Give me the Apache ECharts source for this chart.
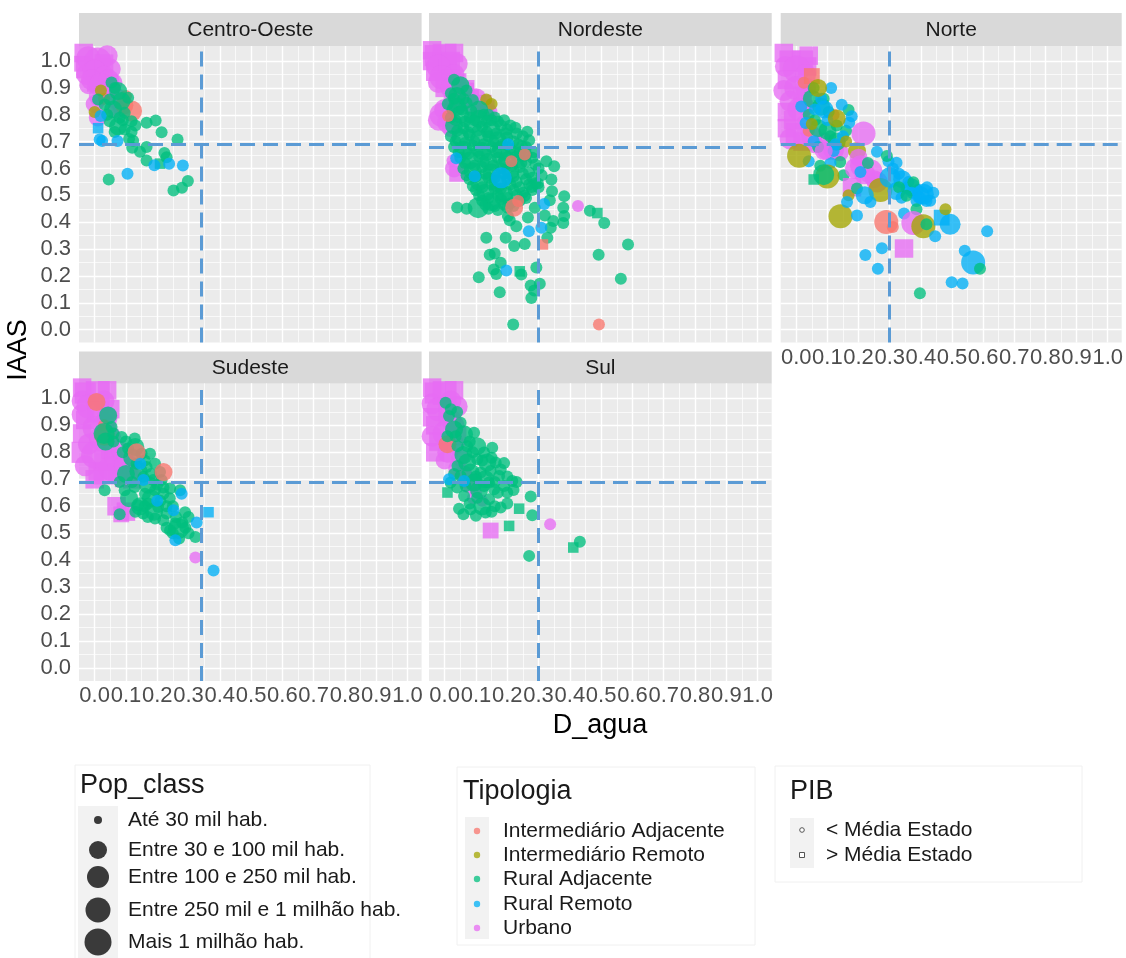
<!DOCTYPE html>
<html><head><meta charset="utf-8">
<script src="https://cdn.jsdelivr.net/npm/echarts@6/dist/echarts.min.js"></script>
<style>html,body{margin:0;padding:0;background:#fff}#c{width:1126px;height:958px}</style>
</head><body><div id="c"></div>
<script>
// ---------------- data ----------------
const regions = ['Centro-Oeste', 'Nordeste', 'Norte', 'Sudeste', 'Sul'];
const tipologias = ['Intermediário Adjacente', 'Intermediário Remoto', 'Rural Adjacente', 'Rural Remoto', 'Urbano'];
const popClasses = ['Até 30 mil hab.', 'Entre 30 e 100 mil hab.', 'Entre 100 e 250 mil hab.', 'Entre 250 mil e 1 milhão hab.', 'Mais 1 milhão hab.'];
const pibClasses = ['< Média Estado', '> Média Estado'];
const tickValues = [0.0, 0.1, 0.2, 0.3, 0.4, 0.5, 0.6, 0.7, 0.8, 0.9, 1.0];
const minorValues = [0.05, 0.15, 0.25, 0.35, 0.45, 0.55, 0.65, 0.75, 0.85, 0.95];
const refX = [0.34, 0.296, 0.302, 0.34, 0.298];   // vertical dashed line (D_agua)
const refY = [0.69, 0.684, 0.69, 0.693, 0.693];   // horizontal dashed line (IAAS)

// points: [D_agua, IAAS, tipologia index, pop_class index, pib index]
const centroOeste = [
  [-0.035,1.03,4,2,1],[0.04,1.02,4,2,0],[-0.04,0.99,4,1,1],[0.05,0.97,4,2,0],[0.015,0.975,4,2,1],[-0.025,0.95,4,2,0],
  [-0.02,1.01,4,3,0],[0.01,1.0,4,4,0],[0.03,0.99,4,2,1],[-0.03,0.97,4,2,1],[0.0,0.96,4,3,0],[0.03,0.95,4,1,0],
  [0.005,0.92,4,2,1],[0.03,0.9,4,1,0],[0.06,0.92,4,1,0],[-0.02,0.91,4,1,0],[0.015,0.87,4,2,0],
  [0.045,0.93,4,2,0],[-0.01,0.93,4,2,0],[0.02,0.91,4,3,0],[0.05,0.9,4,1,0],[0.035,0.88,4,1,0],[0.0,0.84,4,1,0],
  [0.07,0.86,4,2,0],[0.085,0.83,4,1,0],[0.07,0.82,4,1,0],[0.01,0.79,4,1,0],
  [0.03,0.86,0,0,0],[0.1,0.87,0,0,0],[0.095,0.835,0,1,0],[0.118,0.814,0,2,0],
  [0.0,0.81,1,0,0],[0.02,0.89,1,0,0],
  [0.054,0.92,2,0,0],[0.075,0.888,2,1,0],[0.048,0.857,2,0,0],[0.086,0.851,2,1,0],[0.107,0.863,2,0,0],[0.059,0.82,2,1,0],
  [0.096,0.807,2,0,0],[0.118,0.776,2,0,0],[0.048,0.776,2,0,0],[0.075,0.757,2,1,0],[0.064,0.736,2,0,0],[0.096,0.745,2,0,0],
  [0.118,0.736,2,0,0],[0.08,0.789,2,0,0],[0.032,0.838,2,0,0],[0.011,0.857,2,0,0],[0.166,0.77,2,0,0],[0.195,0.779,2,0,0],
  [0.065,0.9,2,0,0],[0.09,0.78,2,0,0],[0.11,0.71,2,0,0],[0.13,0.76,2,0,0],[0.04,0.8,2,0,0],
  [0.214,0.735,2,0,0],[0.265,0.708,2,0,0],[0.123,0.703,2,0,0],[0.12,0.677,2,0,0],[0.145,0.662,2,0,0],[0.166,0.68,2,0,0],
  [0.166,0.63,2,0,0],[0.223,0.658,2,0,0],[0.23,0.642,2,0,0],[0.209,0.618,2,0,1],[0.045,0.559,2,0,0],[0.252,0.518,2,0,0],
  [0.279,0.528,2,0,0],[0.298,0.553,2,0,0],
  [0.011,0.75,3,0,1],[0.019,0.795,3,0,0],[0.016,0.708,3,0,0],[0.024,0.702,3,0,0],[0.073,0.702,3,0,0],[0.105,0.58,3,0,0],
  [0.191,0.612,3,0,0],[0.238,0.618,3,0,0],[0.282,0.611,3,0,0]
];
const nordeste = [
  [-0.04,1.04,4,2,1],[0.03,1.03,4,2,1],[-0.04,1.0,4,2,1],[0.04,0.99,4,2,0],[-0.03,0.96,4,2,1],[0.0,0.99,4,2,0],
  [-0.03,1.02,4,3,1],[0.0,1.02,4,4,1],[0.02,1.0,4,2,1],[-0.02,0.98,4,3,0],[0.01,0.97,4,2,1],[0.03,0.95,4,2,0],
  [0.02,0.935,4,2,1],[-0.02,0.92,4,2,0],[0.0,0.9,4,2,1],[0.04,0.89,4,2,0],[0.07,0.9,4,1,1],[0.1,0.86,4,2,0],
  [0.03,0.86,4,2,0],[0.13,0.82,4,2,1],[0.0,0.82,4,2,0],[-0.02,0.78,4,2,0],[0.02,0.75,4,1,0],[0.04,0.58,4,1,1],
  [-0.01,0.94,4,3,0],[0.04,0.92,4,2,1],[0.02,0.9,4,2,0],[0.06,0.88,4,3,1],[0.08,0.86,4,2,1],[0.05,0.85,4,2,0],
  [0.09,0.83,4,1,0],[0.12,0.84,4,2,1],[0.14,0.81,4,1,0],[-0.01,0.8,4,3,0],[0.01,0.77,4,2,0],[0.03,0.6,4,1,0],[0.025,0.63,4,0,0],
  [0.133,0.857,1,0,0],[0.15,0.84,1,0,0],
  [0.03,0.93,2,0,0],[0.05,0.91,2,1,0],[0.02,0.88,2,0,0],[0.04,0.87,2,1,0],[0.07,0.89,2,0,0],
  [0.03,0.86,2,0,0],[0.06,0.86,2,0,0],[0.09,0.855,2,0,0],
  [0.01,0.84,2,0,0],[0.04,0.83,2,1,0],[0.07,0.845,2,0,0],[0.11,0.82,2,1,0],[0.14,0.8,2,0,0],
  [0.025,0.82,2,0,0],[0.055,0.82,2,0,0],[0.085,0.815,2,0,0],[0.125,0.8,2,0,0],[0.16,0.79,2,0,0],
  [0.02,0.79,2,0,0],[0.05,0.8,2,1,0],[0.08,0.79,2,0,0],[0.11,0.785,2,1,0],[0.15,0.78,2,0,0],[0.17,0.775,2,0,0],
  [0.035,0.78,2,0,0],[0.065,0.775,2,0,0],[0.095,0.78,2,0,0],[0.135,0.775,2,0,0],[0.19,0.78,2,0,0],[0.21,0.76,2,0,0],
  [0.03,0.76,2,1,0],[0.06,0.75,2,0,0],[0.09,0.765,2,1,0],[0.12,0.755,2,0,0],[0.15,0.745,2,1,0],[0.18,0.76,2,0,0],[0.2,0.745,2,0,0],[0.23,0.73,2,0,0],
  [0.04,0.74,2,0,0],[0.075,0.735,2,0,0],[0.105,0.74,2,0,0],[0.135,0.735,2,0,0],[0.165,0.73,2,0,0],[0.195,0.73,2,0,0],[0.25,0.72,2,0,0],
  [0.02,0.72,2,0,0],[0.05,0.715,2,1,0],[0.08,0.725,2,0,0],[0.11,0.71,2,1,0],[0.14,0.72,2,0,0],[0.17,0.705,2,1,0],[0.2,0.715,2,0,0],[0.22,0.7,2,0,0],
  [0.035,0.7,2,0,0],[0.065,0.695,2,0,0],[0.095,0.7,2,0,0],[0.125,0.69,2,0,0],[0.155,0.7,2,0,0],[0.185,0.69,2,0,0],[0.235,0.69,2,0,0],[0.27,0.705,2,0,0],
  [0.03,0.68,2,0,0],[0.06,0.67,2,1,0],[0.09,0.685,2,0,0],[0.12,0.665,2,1,0],[0.15,0.68,2,0,0],[0.18,0.67,2,1,0],[0.21,0.675,2,0,0],[0.24,0.66,2,0,0],[0.26,0.68,2,0,0],
  [0.045,0.66,2,0,0],[0.075,0.655,2,0,0],[0.105,0.665,2,0,0],[0.135,0.65,2,0,0],[0.165,0.66,2,0,0],[0.195,0.65,2,0,0],[0.225,0.66,2,0,0],[0.25,0.645,2,0,0],[0.285,0.66,2,0,0],
  [0.05,0.64,2,0,0],[0.08,0.63,2,1,0],[0.11,0.645,2,0,0],[0.14,0.625,2,1,0],[0.17,0.64,2,0,0],[0.2,0.63,2,1,0],[0.23,0.645,2,0,0],[0.26,0.625,2,0,0],[0.28,0.64,2,0,0],
  [0.065,0.62,2,0,0],[0.095,0.61,2,0,0],[0.125,0.625,2,0,0],[0.155,0.61,2,0,0],[0.185,0.62,2,0,0],[0.215,0.61,2,0,0],[0.245,0.62,2,0,0],[0.29,0.615,2,0,0],
  [0.06,0.6,2,0,0],[0.09,0.59,2,1,0],[0.12,0.605,2,0,0],[0.15,0.585,2,1,0],[0.18,0.6,2,0,0],[0.21,0.59,2,1,0],[0.24,0.605,2,0,0],[0.27,0.585,2,0,0],[0.3,0.6,2,0,0],
  [0.07,0.575,2,0,0],[0.1,0.57,2,0,0],[0.13,0.58,2,0,0],[0.16,0.565,2,0,0],[0.19,0.58,2,0,0],[0.22,0.57,2,0,0],[0.25,0.58,2,0,0],[0.28,0.565,2,0,0],[0.31,0.575,2,0,0],
  [0.08,0.56,2,0,0],[0.11,0.55,2,1,0],[0.14,0.565,2,0,0],[0.17,0.545,2,1,0],[0.2,0.56,2,0,0],[0.23,0.55,2,0,0],[0.26,0.56,2,0,0],[0.29,0.545,2,0,0],
  [0.09,0.535,2,0,0],[0.12,0.53,2,0,0],[0.15,0.54,2,0,0],[0.18,0.525,2,0,0],[0.21,0.54,2,0,0],[0.24,0.53,2,0,0],[0.27,0.54,2,0,0],[0.3,0.53,2,0,0],
  [0.1,0.52,2,0,0],[0.13,0.51,2,1,0],[0.16,0.525,2,0,0],[0.19,0.505,2,1,0],[0.22,0.52,2,0,0],[0.25,0.51,2,0,0],[0.28,0.52,2,0,0],
  [0.11,0.5,2,0,0],[0.14,0.49,2,0,0],[0.17,0.5,2,0,0],[0.2,0.49,2,0,0],[0.23,0.5,2,0,0],[0.26,0.49,2,0,0],
  [0.12,0.48,2,0,0],[0.15,0.475,2,1,0],[0.18,0.485,2,0,0],[0.21,0.47,2,0,0],[0.24,0.48,2,0,0],
  [0.13,0.465,2,0,0],[0.16,0.46,2,0,0],[0.19,0.465,2,0,0],[0.22,0.46,2,0,0],
  [0.04,0.455,2,0,0],[0.07,0.45,2,0,0],[0.107,0.454,2,2,0],[0.14,0.45,2,0,0],[0.17,0.445,2,0,0],[0.2,0.455,2,0,0],
  [0.264,0.737,2,0,0],[0.226,0.752,2,0,0],[0.325,0.627,2,0,0],[0.35,0.608,2,0,0],[0.341,0.559,2,0,0],[0.343,0.515,2,0,0],
  [0.382,0.497,2,0,0],[0.379,0.454,2,0,0],[0.382,0.423,2,0,0],[0.379,0.397,2,0,0],[0.347,0.404,2,0,0],[0.339,0.379,2,0,0],
  [0.328,0.342,2,0,0],[0.464,0.443,2,0,0],[0.488,0.434,2,0,1],[0.51,0.397,2,0,0],[0.586,0.317,2,0,0],[0.492,0.279,2,0,0],
  [0.563,0.189,2,0,0],[0.219,0.019,2,0,0],[0.133,0.342,2,0,0],[0.195,0.342,2,0,0],[0.222,0.311,2,0,0],[0.256,0.319,2,0,0],
  [0.144,0.279,2,0,0],[0.16,0.283,2,0,0],[0.179,0.249,2,0,0],[0.157,0.224,2,0,0],[0.165,0.207,2,0,0],[0.109,0.195,2,0,0],
  [0.176,0.139,2,0,0],[0.24,0.217,2,0,1],[0.245,0.205,2,0,0],[0.275,0.164,2,0,0],[0.277,0.118,2,0,0],[0.293,0.231,2,0,0],
  [0.304,0.171,2,0,0],[0.286,0.146,2,0,0],[0.208,0.407,2,0,0],[0.229,0.385,2,0,0],[0.202,0.423,2,0,0],[0.266,0.417,2,0,0],
  [0.288,0.454,2,0,0],[0.256,0.498,2,0,0],[0.277,0.531,2,0,0],[0.298,0.544,2,0,0],[0.336,0.482,2,0,0],[0.32,0.425,2,0,0],
  [0.247,0.683,2,0,0],[0.261,0.652,2,0,0],
  [0.037,0.638,3,0,0],[0.096,0.571,3,0,0],[0.181,0.565,3,2,0],[0.203,0.69,3,0,0],[0.309,0.379,3,0,0],[0.318,0.468,3,0,0],
  [0.269,0.366,3,0,0],[0.197,0.22,3,0,0],
  [0.011,0.795,0,0,0],[0.256,0.652,0,0,0],[0.213,0.627,0,0,0],[0.222,0.454,0,1,0],[0.235,0.479,0,0,0],[0.314,0.317,0,0,1],[0.493,0.019,0,0,0],
  [0.426,0.46,4,0,0]
];
const norte = [
  [-0.04,1.03,4,2,1],[0.04,1.02,4,2,1],[-0.035,0.98,4,2,0],[0.035,0.98,4,2,1],[-0.04,0.89,4,2,0],[0.03,0.9,4,2,0],
  [-0.02,1.0,4,3,1],[0.02,1.0,4,3,1],[0.0,0.97,4,4,0],[0.03,0.95,4,2,0],[-0.03,0.93,4,2,1],[0.0,0.9,4,3,0],
  [-0.03,0.81,4,2,1],[0.03,0.83,4,1,0],[-0.03,0.75,4,2,1],[0.02,0.7,4,2,1],[-0.02,0.71,4,2,0],
  [0.02,0.87,4,2,1],[-0.02,0.85,4,2,0],[0.01,0.82,4,3,0],[-0.01,0.78,4,2,1],[0.03,0.76,4,2,0],[0.0,0.73,4,3,1],
  [0.05,0.72,4,2,0],[0.09,0.7,4,1,0],[0.12,0.67,4,2,0],[0.06,0.69,4,1,0],[0.1,0.67,4,2,0],[0.14,0.66,4,1,0],
  [0.024,0.919,0,0,0],[0.05,0.944,0,1,1],[0.12,0.8,0,0,0],[0.04,0.74,0,0,0],
  [0.168,0.818,2,0,0],[0.104,0.81,2,0,0],[0.088,0.86,2,0,0],[0.056,0.9,2,0,0],[0.109,0.72,2,0,0],[0.077,0.61,2,0,0],
  [0.141,0.624,2,0,0],[0.152,0.575,2,0,0],[0.06,0.78,2,0,0],[0.1,0.74,2,1,0],[0.13,0.7,2,1,0],[0.04,0.8,2,0,0],
  [0.07,0.68,2,0,0],[0.08,0.83,2,1,0],[0.13,0.76,2,0,0],[0.07,0.75,2,1,0],[0.16,0.74,2,0,0],[0.05,0.86,2,1,0],
  [0.016,0.831,3,0,0],[0.03,0.769,3,0,0],[0.056,0.701,3,0,0],[0.04,0.627,3,0,0],[0.12,0.665,3,0,0],[0.146,0.837,3,0,0],
  [0.178,0.794,3,0,0],[0.112,0.9,3,0,0],[0.126,0.69,3,0,0],[0.08,0.86,3,0,0],[0.1,0.78,3,0,0],[0.06,0.82,3,0,0],[0.15,0.72,3,0,0],
  [0.09,0.82,3,1,0],[0.17,0.77,3,0,0],[0.11,0.62,3,0,0],
  [0.05,0.766,1,0,0],[0.13,0.786,1,1,0],[0.07,0.9,1,1,0],[0.195,0.665,1,1,0],[0.16,0.7,1,0,0],
  [0.216,0.73,4,3,0],[0.088,0.665,4,1,0],[0.2,0.64,4,1,0],[0.206,0.61,4,2,0],[0.19,0.6,4,2,0],[0.22,0.58,4,2,0],
  [0.238,0.59,4,3,0],[0.26,0.55,4,2,0],[0.25,0.56,4,1,0],
  [0.009,0.647,1,3,0],[0.1,0.57,1,3,0],[0.088,0.577,2,2,0],[0.056,0.559,2,0,1],
  [0.179,0.53,4,2,1],[0.168,0.5,1,0,0],[0.142,0.422,1,3,0],[0.27,0.52,1,3,0],
  [0.259,0.662,3,0,0],[0.296,0.627,3,0,0],[0.322,0.621,3,0,0],[0.291,0.646,2,0,0],[0.206,0.587,3,0,0],[0.23,0.62,2,0,0],
  [0.195,0.525,2,0,0],[0.195,0.425,3,0,0],[0.163,0.475,3,0,0],[0.238,0.475,3,0,0],[0.22,0.5,3,1,0],
  [0.301,0.566,3,2,0],[0.31,0.6,3,0,0],[0.33,0.58,3,0,0],[0.322,0.516,3,1,0],[0.354,0.528,3,0,0],[0.36,0.55,3,0,0],
  [0.34,0.56,3,1,0],[0.37,0.53,3,1,0],[0.39,0.52,3,0,0],[0.42,0.53,3,0,0],[0.4,0.5,3,1,0],[0.43,0.48,3,0,0],
  [0.376,0.549,2,0,0],[0.33,0.53,2,0,0],[0.338,0.491,3,0,0],[0.371,0.51,3,0,0],[0.354,0.498,2,0,0],[0.408,0.504,3,2,0],
  [0.386,0.479,3,0,0],[0.397,0.491,3,0,0],[0.418,0.479,3,0,0],[0.44,0.51,3,0,0],[0.386,0.448,2,0,0],[0.346,0.432,3,0,0],
  [0.289,0.401,0,3,0],[0.31,0.382,0,0,0],[0.376,0.397,4,3,0],[0.408,0.385,1,3,0],[0.418,0.392,2,0,0],
  [0.467,0.417,3,1,1],[0.494,0.392,3,2,0],[0.479,0.448,1,0,0],[0.446,0.348,3,0,0],
  [0.275,0.303,3,0,0],[0.222,0.278,3,0,0],[0.262,0.227,3,0,0],[0.346,0.302,4,2,1],
  [0.541,0.294,3,0,0],[0.568,0.25,3,3,0],[0.59,0.227,2,0,0],[0.613,0.366,3,0,0],[0.499,0.176,3,0,0],[0.534,0.172,3,0,0],
  [0.397,0.135,2,0,0]
];
const sudeste = [
  [-0.04,1.04,4,2,1],[0.04,1.03,4,2,1],[-0.04,0.99,4,2,0],[0.05,0.96,4,2,1],[-0.04,0.94,4,2,0],[0.03,0.91,4,2,0],
  [-0.03,1.02,4,3,1],[0.01,1.02,4,4,1],[0.03,0.99,4,2,0],[-0.02,0.97,4,3,0],[0.01,0.95,4,3,1],[0.04,0.93,4,2,0],
  [-0.04,0.87,4,2,1],[0.05,0.86,4,2,0],[-0.04,0.8,4,3,1],[0.05,0.81,4,2,1],
  [-0.03,0.92,4,2,1],[0.0,0.89,4,3,0],[0.04,0.88,4,2,1],[0.02,0.85,4,3,0],[-0.02,0.83,4,2,0],[0.0,0.79,4,4,0],
  [0.03,0.77,4,3,1],[0.06,0.78,4,2,1],[0.09,0.76,4,3,1],[0.01,0.73,4,2,1],[0.05,0.74,4,3,0],[0.11,0.73,4,2,1],
  [0.03,0.72,4,3,1],[0.07,0.72,4,2,1],[0.1,0.75,4,3,0],[-0.03,0.75,4,2,0],[0.12,0.7,4,2,1],[0.09,0.7,4,1,1],
  [0.0,0.7,4,2,1],[0.08,0.81,4,1,0],[0.07,0.6,4,2,1],[0.1,0.58,4,2,1],[0.085,0.57,4,1,1],
  [0.006,0.987,0,1,0],[0.032,0.863,0,2,0],[0.03,0.9,0,0,0],
  [0.043,0.937,2,1,0],[0.054,0.894,2,0,0],[0.086,0.857,2,0,0],[0.128,0.851,2,0,0],[0.107,0.814,2,0,0],[0.15,0.795,2,0,0],
  [0.177,0.795,2,0,0],[0.134,0.758,2,0,0],[0.166,0.746,2,0,0],[0.193,0.758,2,0,0],[0.209,0.727,2,0,0],[0.156,0.709,2,0,0],
  [0.187,0.697,2,0,0],[0.214,0.697,2,0,0],[0.241,0.666,2,0,0],[0.273,0.659,2,0,0],[0.032,0.659,2,0,0],[0.096,0.659,2,0,0],
  [0.128,0.671,2,0,0],[0.161,0.646,2,0,0],[0.193,0.659,2,0,0],[0.22,0.646,2,0,0],[0.139,0.604,2,0,0],[0.171,0.61,2,0,0],
  [0.203,0.597,2,0,0],[0.23,0.573,2,0,0],[0.155,0.573,2,0,0],[0.193,0.555,2,0,0],[0.22,0.548,2,0,0],[0.257,0.536,2,0,0],
  [0.289,0.578,2,0,0],[0.3,0.56,2,0,0],[0.268,0.517,2,2,0],[0.322,0.486,2,0,0],[0.241,0.511,2,0,0],
  [0.03,0.87,2,2,0],[0.035,0.84,2,1,0],[0.06,0.84,2,0,0],[0.09,0.8,2,0,0],[0.12,0.78,2,1,0],[0.1,0.72,2,1,0],
  [0.12,0.69,2,0,0],[0.08,0.69,2,0,0],[0.11,0.63,2,1,0],[0.13,0.58,2,0,0],[0.17,0.56,2,0,0],[0.145,0.6,2,1,0],
  [0.18,0.72,2,0,0],[0.2,0.68,2,0,0],[0.21,0.62,2,0,0],[0.25,0.6,2,0,0],[0.29,0.52,2,0,0],[0.08,0.57,2,0,0],
  [0.06,0.87,2,0,0],[0.1,0.84,2,0,0],[0.13,0.82,2,1,0],[0.16,0.77,2,0,0],[0.14,0.73,2,1,0],[0.17,0.68,2,1,0],
  [0.22,0.67,2,0,0],[0.18,0.63,2,1,0],[0.24,0.63,2,0,0],[0.16,0.6,2,0,0],[0.19,0.58,2,1,0],[0.23,0.6,2,0,0],
  [0.26,0.56,2,0,0],[0.28,0.54,2,0,0],[0.23,0.52,2,0,0],[0.25,0.5,2,0,0],[0.3,0.5,2,0,0],[0.27,0.48,2,0,0],
  [0.134,0.8,0,1,0],[0.22,0.727,0,1,0],
  [0.156,0.697,3,0,0],[0.146,0.758,3,0,0],[0.2,0.62,3,0,0],[0.278,0.646,3,0,0],[0.252,0.585,3,0,0],[0.258,0.474,3,0,0],
  [0.326,0.54,3,0,0],[0.364,0.578,3,0,1],[0.38,0.362,3,0,0],
  [0.322,0.41,4,0,0]
];
const sul = [
  [-0.04,1.04,4,2,1],[0.03,1.03,4,2,1],[-0.04,0.98,4,2,0],[0.04,0.97,4,2,0],[-0.04,0.93,4,2,1],[0.02,0.92,4,2,0],
  [-0.03,1.02,4,3,1],[0.0,1.02,4,4,1],[0.02,0.99,4,2,0],[-0.02,0.96,4,3,0],[0.01,0.94,4,2,1],[-0.03,0.9,4,2,1],
  [-0.04,0.86,4,2,0],[0.04,0.86,4,2,1],[-0.03,0.8,4,2,1],[0.0,0.77,4,1,0],[0.04,0.74,4,1,0],
  [0.03,0.9,4,2,0],[0.0,0.87,4,3,0],[-0.02,0.84,4,2,1],[0.03,0.83,4,2,0],[0.01,0.8,4,2,0],[0.05,0.78,4,1,0],
  [0.06,0.72,4,1,0],[0.08,0.68,4,1,0],[0.1,0.65,4,0,0],[0.07,0.7,4,1,0],[0.1,0.7,4,0,0],[0.09,0.63,4,0,0],[0.12,0.62,4,0,0],
  [0.009,0.83,0,1,0],
  [0.003,0.984,2,0,0],[0.014,0.935,2,0,0],[0.03,0.885,2,1,0],[0.009,0.86,2,0,0],[0.051,0.91,2,0,0],[0.062,0.867,2,1,0],
  [0.02,0.96,2,0,0],[0.04,0.95,2,0,0],[0.035,0.86,2,0,0],[0.08,0.84,2,0,0],[0.06,0.79,2,1,0],[0.09,0.8,2,0,0],
  [0.072,0.823,2,0,0],[0.041,0.823,2,0,0],[0.094,0.873,2,0,0],[0.104,0.823,2,1,0],[0.126,0.799,2,0,0],[0.152,0.817,2,0,0],
  [0.12,0.77,2,0,0],[0.15,0.78,2,0,0],[0.19,0.76,2,0,0],[0.03,0.72,2,0,0],[0.1,0.71,2,0,0],[0.13,0.7,2,1,0],
  [0.163,0.762,2,0,0],[0.136,0.762,2,1,0],[0.104,0.774,2,0,0],[0.072,0.762,2,1,0],[0.041,0.749,2,0,0],[0.051,0.712,2,0,0],
  [0.16,0.69,2,0,0],[0.2,0.71,2,0,0],[0.23,0.69,2,0,0],[0.04,0.67,2,0,0],[0.11,0.66,2,1,0],[0.17,0.65,2,0,0],
  [0.083,0.725,2,1,0],[0.115,0.725,2,0,0],[0.147,0.731,2,0,0],[0.174,0.712,2,0,0],[0.216,0.694,2,0,0],[0.009,0.651,2,0,1],
  [0.22,0.66,2,0,0],[0.08,0.61,2,0,0],[0.12,0.6,2,1,0],[0.16,0.6,2,0,0],[0.2,0.61,2,0,0],[0.06,0.57,2,0,0],
  [0.019,0.688,2,0,0],[0.067,0.675,2,0,0],[0.094,0.688,2,1,0],[0.126,0.675,2,0,0],[0.158,0.663,2,0,0],[0.2,0.651,2,0,0],
  [0.062,0.638,2,0,0],[0.104,0.632,2,0,0],[0.142,0.626,2,0,0],[0.179,0.595,2,0,0],[0.046,0.591,2,0,0],[0.083,0.589,2,0,0],
  [0.1,0.565,2,0,0],[0.15,0.58,2,0,0],
  [0.131,0.577,2,0,0],[0.179,0.736,2,0,0],[0.142,0.688,2,0,0],[0.19,0.675,2,0,0],
  [0.014,0.7,3,0,0],[0.062,0.694,3,0,0],
  [0.275,0.636,2,0,0],[0.238,0.591,2,0,1],[0.28,0.567,2,0,0],[0.206,0.527,2,0,1],[0.27,0.416,2,0,0],[0.411,0.447,2,0,1],[0.432,0.468,2,0,0],
  [0.147,0.51,4,1,1],[0.337,0.533,4,0,0]
];
const regionData = [centroOeste, nordeste, norte, sudeste, sul];

// ---------------- styling / layout ----------------
const FONT = "'Liberation Sans', Arial, Helvetica, sans-serif";
const colors = ['#F8766D', '#A3A500', '#00BF7D', '#00B0F6', '#E76BF3'];
const sizes = [12, 18, 21, 24, 27];
const panels = [
  {left: 79,    top: 46,    width: 342.6, height: 296.5, stripTop: 13,    stripH: 33, xl: false, yl: true},
  {left: 429,   top: 46,    width: 342.7, height: 296.5, stripTop: 13,    stripH: 33, xl: false, yl: false},
  {left: 780.7, top: 46,    width: 341,   height: 296.5, stripTop: 13,    stripH: 33, xl: true,  yl: false},
  {left: 79,    top: 383.3, width: 342.6, height: 297.7, stripTop: 351.5, stripH: 32, xl: true,  yl: true},
  {left: 429,   top: 383.3, width: 342.7, height: 297.7, stripTop: 351.5, stripH: 32, xl: true,  yl: false}
];

const grids = [], xAxes = [], yAxes = [], series = [], graphics = [];
panels.forEach((p, i) => {
  grids.push({left: p.left, top: p.top, width: p.width, height: p.height, show: true,
    backgroundColor: '#EBEBEB', borderWidth: 0, containLabel: false});
  const axisCommon = (show, margin) => ({
    axisLine: {show: false},
    splitLine: {show: false},
    axisTick: {show: show, length: 4, lineStyle: {color: '#333333', width: 1}, customValues: tickValues},
    axisLabel: {show: show, customValues: tickValues, color: '#4D4D4D', fontSize: 22, fontFamily: FONT, margin: margin,
      formatter: v => Number(v).toFixed(1)}
  });
  xAxes.push(Object.assign({type: 'value', gridIndex: i, min: -0.05, max: 1.045}, axisCommon(p.xl, 4)));
  yAxes.push(Object.assign({type: 'value', gridIndex: i, min: -0.048, max: 1.056}, axisCommon(p.yl, 8)));

  const gl = [];
  minorValues.forEach(v => { gl.push({xAxis: v, lineStyle: {width: 0.7}}); gl.push({yAxis: v, lineStyle: {width: 0.7}}); });
  tickValues.forEach(v => { gl.push({xAxis: v, lineStyle: {width: 1.4}}); gl.push({yAxis: v, lineStyle: {width: 1.4}}); });
  series.push({type: 'scatter', xAxisIndex: i, yAxisIndex: i, data: [], silent: true, z: 1,
    markLine: {silent: true, z: 1, animation: false, symbol: ['none', 'none'], label: {show: false},
      lineStyle: {color: '#FFFFFF', type: 'solid'}, emphasis: {disabled: true}, data: gl}});

  const items = regionData[i].map(d => ({
    value: [d[0], d[1]],
    symbol: d[4] ? 'rect' : 'circle',
    symbolSize: d[4] ? sizes[d[3]] * 0.88 : sizes[d[3]],
    itemStyle: {color: colors[d[2]], opacity: 0.78}
  }));
  series.push({type: 'scatter', name: regions[i], xAxisIndex: i, yAxisIndex: i, z: 2, clip: true,
    animation: false, data: items,
    markLine: {silent: true, z: 4, animation: false, symbol: ['none', 'none'], label: {show: false},
      lineStyle: {color: '#5B9BD5', width: 3, type: [15, 8]}, emphasis: {disabled: true},
      data: [{xAxis: refX[i]}, {yAxis: refY[i]}]}});

  graphics.push({type: 'rect', shape: {x: p.left, y: p.stripTop, width: p.width, height: p.stripH},
    style: {fill: '#D9D9D9'}, silent: true});
  graphics.push({type: 'text', x: p.left + p.width / 2, y: p.stripTop + p.stripH / 2 + 1,
    style: {text: regions[i], fill: '#1A1A1A', font: '21px ' + FONT, align: 'center', verticalAlign: 'middle',
      textAlign: 'center', textVerticalAlign: 'middle'}, silent: true});
});

// axis titles
graphics.push({type: 'text', x: 19, y: 350, rotation: Math.PI / 2,
  style: {text: 'IAAS', fill: '#000', font: '27px ' + FONT, align: 'center', verticalAlign: 'middle',
    textAlign: 'center', textVerticalAlign: 'middle'}});
graphics.push({type: 'text', x: 600, y: 726,
  style: {text: 'D_agua', fill: '#000', font: '27px ' + FONT, align: 'center', verticalAlign: 'middle',
    textAlign: 'center', textVerticalAlign: 'middle'}});

// legends
function txt(x, y, s, size) {
  return {type: 'text', x: x, y: y, style: {text: s, fill: '#1A1A1A', font: size + 'px ' + FONT,
    align: 'left', verticalAlign: 'middle', textAlign: 'left', textVerticalAlign: 'middle'}};
}
// Pop_class
graphics.push({type: 'rect', shape: {x: 75, y: 765, width: 295, height: 200}, style: {fill: '#FFFFFF', stroke: '#F0F0F0', lineWidth: 1}});
graphics.push(txt(80, 786, 'Pop_class', 27));
graphics.push({type: 'rect', shape: {x: 78, y: 806, width: 40, height: 160}, style: {fill: '#F2F2F2'}});
const popKeyY = [820, 850, 877, 910, 942];
const popKeyR = [4, 9, 11, 12.5, 13.5];
popClasses.forEach((s, k) => {
  graphics.push({type: 'circle', shape: {cx: 98, cy: popKeyY[k], r: popKeyR[k]}, style: {fill: '#3A3A3A'}});
  graphics.push(txt(128, popKeyY[k], s, 21));
});
// Tipologia
graphics.push({type: 'rect', shape: {x: 457, y: 767, width: 298, height: 178}, style: {fill: '#FFFFFF', stroke: '#F0F0F0', lineWidth: 1}});
graphics.push(txt(463, 792, 'Tipologia', 27));
graphics.push({type: 'rect', shape: {x: 465, y: 817, width: 24, height: 122}, style: {fill: '#F2F2F2'}});
const tipKeyY = [831, 855, 879, 904, 928];
tipologias.forEach((s, k) => {
  graphics.push({type: 'circle', shape: {cx: 477, cy: tipKeyY[k], r: 3.2}, style: {fill: colors[k], opacity: 0.75}});
  graphics.push(txt(503, tipKeyY[k], s, 21));
});
// PIB
graphics.push({type: 'rect', shape: {x: 775, y: 766, width: 307, height: 116}, style: {fill: '#FFFFFF', stroke: '#F0F0F0', lineWidth: 1}});
graphics.push(txt(790, 792, 'PIB', 27));
graphics.push({type: 'rect', shape: {x: 790, y: 818, width: 24, height: 50}, style: {fill: '#F2F2F2'}});
const pibKeyY = [830, 855];
graphics.push({type: 'circle', shape: {cx: 802, cy: pibKeyY[0], r: 2.3}, style: {fill: '#FFFFFF', stroke: '#555', lineWidth: 1}});
graphics.push({type: 'rect', shape: {x: 799.5, y: pibKeyY[1] - 2.5, width: 5, height: 5}, style: {fill: '#FFFFFF', stroke: '#555', lineWidth: 1}});
pibClasses.forEach((s, k) => graphics.push(txt(826, pibKeyY[k], s, 21)));

const chart = echarts.init(document.getElementById('c'), null, {renderer: 'canvas'});
chart.setOption({
  animation: false,
  backgroundColor: '#FFFFFF',
  grid: grids, xAxis: xAxes, yAxis: yAxes, series: series,
  graphic: {elements: graphics}
});
</script>
</body></html>
